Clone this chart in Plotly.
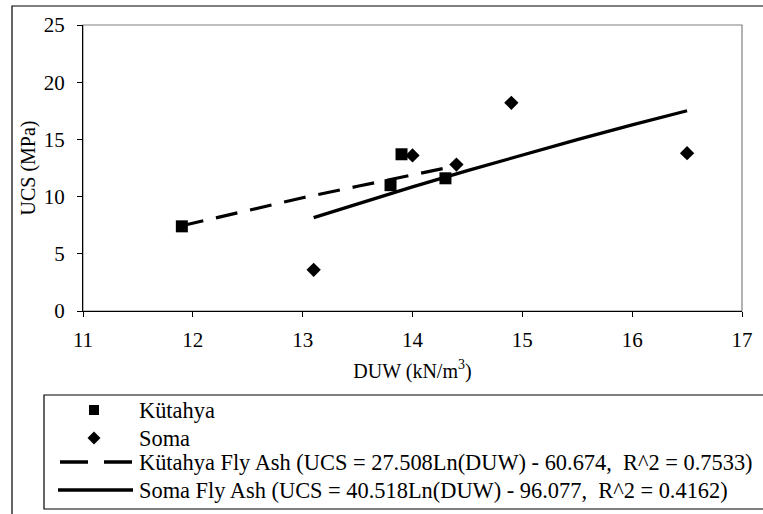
import plotly.graph_objects as go

# Data
kut_x = [11.9, 13.8, 13.9, 14.3]
kut_y = [7.4, 11.0, 13.7, 11.6]
soma_x = [13.1, 14.0, 14.4, 14.9, 16.5]
soma_y = [3.6, 13.6, 12.8, 18.2, 13.8]

# Trend lines
kut_fit_x = [11.9, 12.5, 13.0, 13.5, 14.0, 14.3]
kut_fit_y = [7.45, 8.8, 9.9, 10.9, 11.9, 12.5]
soma_fit_x = [13.1, 13.5, 14.0, 14.5, 15.0, 15.5, 16.0, 16.5]
soma_fit_y = [8.16, 9.38, 10.85, 12.27, 13.65, 14.98, 16.27, 17.51]

names = ["Kütahya", "Soma",
         "Kütahya Fly Ash (UCS = 27.508Ln(DUW) - 60.674,\u00a0\u00a0R^2 = 0.7533)",
         "Soma Fly Ash (UCS = 40.518Ln(DUW) - 96.077,\u00a0\u00a0R^2 = 0.4162)"]

FONT = "Liberation Serif, Times New Roman, serif"
W, H = 763, 514
L, R, T, B = 83, 21, 25, 203
PW, PH = W - L - R, H - T - B


def px(x):
    return (x - L) / PW


def py(y):
    return (H - B - y) / PH


fig = go.Figure()
fig.add_trace(go.Scatter(x=kut_x, y=kut_y, mode="markers", name=names[0],
                         marker=dict(symbol="square", size=12, color="black")))
fig.add_trace(go.Scatter(x=soma_x, y=soma_y, mode="markers", name=names[1],
                         marker=dict(symbol="diamond", size=11, color="black")))
fig.add_trace(go.Scatter(x=kut_fit_x, y=kut_fit_y, mode="lines", name=names[2],
                         line=dict(color="black", width=3.2, dash="22px,13px")))
fig.add_trace(go.Scatter(x=soma_fit_x, y=soma_fit_y, mode="lines", name=names[3],
                         line=dict(color="black", width=3.2)))

rows = [410, 438, 462, 490]
shapes = [
    # outer chart border
    dict(type="rect", xref="paper", yref="paper", x0=px(12), x1=px(775),
         y0=py(520), y1=py(6), line=dict(color="black", width=1.2)),
    # legend box
    dict(type="rect", xref="paper", yref="paper", x0=px(44), x1=px(775),
         y0=py(509), y1=py(395), line=dict(color="black", width=1.2)),
    # plot frame (grey top/right)
    dict(type="rect", xref="paper", yref="paper", x0=0, x1=1, y0=0, y1=1,
         line=dict(color="#808080", width=1.2), layer="below"),
    # legend symbols
    dict(type="rect", xref="paper", yref="paper", x0=px(89), x1=px(99),
         y0=py(rows[0] + 5), y1=py(rows[0] - 5), fillcolor="black",
         line=dict(width=0)),
    dict(type="path", xref="paper", yref="paper",
         path=(f"M{px(94)},{py(rows[1] - 6.5)} L{px(100.5)},{py(rows[1])} "
               f"L{px(94)},{py(rows[1] + 6.5)} L{px(87.5)},{py(rows[1])} Z"),
         fillcolor="black", line=dict(width=0)),
    dict(type="line", xref="paper", yref="paper", x0=px(60), x1=px(133),
         y0=py(rows[2]), y1=py(rows[2]),
         line=dict(color="black", width=3.5, dash="28px,16px")),
    dict(type="line", xref="paper", yref="paper", x0=px(58), x1=px(133),
         y0=py(rows[3]), y1=py(rows[3]),
         line=dict(color="black", width=3.5)),
]

annotations = [
    dict(xref="paper", yref="paper", x=px(137), y=py(r), text=t,
         xanchor="left", yanchor="middle", showarrow=False,
         font=dict(family=FONT, size=22.4, color="black"))
    for r, t in zip(rows, names)
]

fig.update_layout(
    width=W, height=H,
    margin=dict(l=L, r=R, t=T, b=B, autoexpand=False),
    paper_bgcolor="white", plot_bgcolor="white",
    font=dict(family=FONT, size=20, color="black"),
    shapes=shapes,
    annotations=annotations,
    showlegend=False,
    xaxis=dict(range=[11, 17], dtick=1, tick0=11, showgrid=False, zeroline=False,
               showline=True, linecolor="black", linewidth=1,
               ticks="outside", ticklen=5, tickcolor="black",
               ticklabelstandoff=5,
               tickfont=dict(family=FONT, size=21),
               title=dict(text="DUW (kN/m<sup>3</sup>)", font=dict(family=FONT, size=20),
                          standoff=12)),
    yaxis=dict(range=[0, 25], dtick=5, tick0=0, showgrid=False, zeroline=False,
               showline=True, linecolor="black", linewidth=1,
               ticks="outside", ticklen=5, tickcolor="black",
               ticklabelstandoff=8,
               tickfont=dict(family=FONT, size=21),
               title=dict(text="UCS (MPa)", font=dict(family=FONT, size=20),
                          standoff=2)),
)

fig.write_html("out.html")
